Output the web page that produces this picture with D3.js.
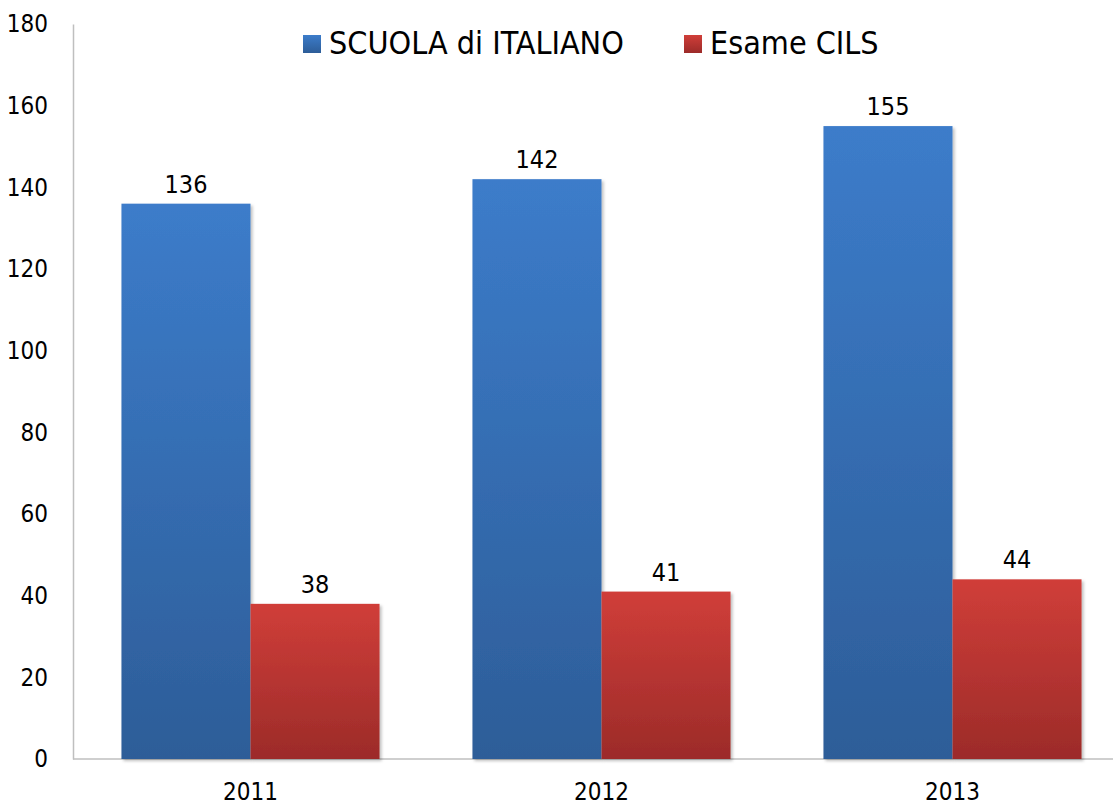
<!DOCTYPE html>
<html><head><meta charset="utf-8">
<script src="https://cdn.jsdelivr.net/npm/d3@7"></script>
<style>
html,body{margin:0;padding:0;background:#fff;overflow:hidden;}
text{font-family:"DejaVu Sans Condensed","DejaVu Sans",sans-serif;fill:#000;}
</style></head>
<body>
<svg id="chart" width="1113" height="805"></svg>
<script>
const categories = ["2011", "2012", "2013"];
const seriesNames = ["SCUOLA di ITALIANO", "Esame CILS"];
const scuola = [136, 142, 155];
const cils = [38, 41, 44];
const yTicks = [0, 20, 40, 60, 80, 100, 120, 140, 160, 180];

const svg = d3.select("#chart");
const mLeft = 73, mTop = 24, mBottom = 759, mRight = 1126;

const x = d3.scaleBand().domain(categories).range([mLeft + 2, mRight + 2]).paddingInner(0).paddingOuter(0);
const sub = d3.scaleBand().domain(seriesNames).range([0, x.bandwidth()]).paddingOuter(0.36).paddingInner(0);
const y = d3.scaleLinear().domain([0, 180]).range([mBottom, mTop]);

const defs = svg.append("defs");
function grad(id, c1, c2) {
  const g = defs.append("linearGradient").attr("id", id).attr("x1", 0).attr("y1", 0).attr("x2", 0).attr("y2", 1);
  g.append("stop").attr("offset", "0%").attr("stop-color", c1);
  g.append("stop").attr("offset", "100%").attr("stop-color", c2);
}
grad("gBlue", "#3c7cca", "#2d5d98");
grad("gRed", "#d03e39", "#9c2b29");
const f = defs.append("filter").attr("id", "sh").attr("x", "-10%").attr("y", "-10%").attr("width", "130%").attr("height", "130%");
f.append("feDropShadow").attr("dx", 2).attr("dy", 2).attr("stdDeviation", 1.5).attr("flood-color", "#000").attr("flood-opacity", 0.25);

// axes
const yAxis = d3.axisLeft(y).tickValues(yTicks).tickSize(0).tickPadding(25);
const ga = svg.append("g").attr("transform", `translate(${mLeft},0)`).call(yAxis);
ga.select(".domain").attr("stroke", "#bfbfbf").attr("stroke-width", 1.5);
ga.selectAll("text").style("font-size", "24px").attr("font-family", null);

const xAxis = d3.axisBottom(x).tickSize(0).tickPadding(24);
const gx = svg.append("g").attr("transform", `translate(0,${mBottom})`).call(xAxis);
gx.select(".domain").attr("stroke", "#bfbfbf").attr("stroke-width", 1.5)
  .attr("d", `M${mLeft},0H${mRight + 2}`);
gx.selectAll("text").style("font-size", "24px").attr("font-family", null);

const data = [
  {name: seriesNames[0], values: scuola, fill: "url(#gBlue)"},
  {name: seriesNames[1], values: cils, fill: "url(#gRed)"}
];
const bars = svg.append("g");
data.forEach(s => {
  categories.forEach((c, i) => {
    const v = s.values[i];
    bars.append("rect")
      .attr("x", x(c) + sub(s.name))
      .attr("y", y(v))
      .attr("width", sub.bandwidth())
      .attr("height", y(0) - y(v))
      .attr("fill", s.fill)
      .attr("filter", "url(#sh)");
    svg.append("text")
      .attr("x", x(c) + sub(s.name) + sub.bandwidth() / 2)
      .attr("y", y(v) - 11)
      .attr("text-anchor", "middle")
      .style("font-size", "25px")
      .text(v);
  });
});

// legend
const legend = svg.append("g");
const legItems = [
  {name: seriesNames[0], fill: "url(#gBlue)", x: 303},
  {name: seriesNames[1], fill: "url(#gRed)", x: 684}
];
legItems.forEach(l => {
  legend.append("rect").attr("x", l.x).attr("y", 35).attr("width", 18).attr("height", 18).attr("fill", l.fill);
  legend.append("text").attr("x", l.x + 26).attr("y", 54).style("font-size", "32px").text(l.name);
});
</script>
</body></html>
